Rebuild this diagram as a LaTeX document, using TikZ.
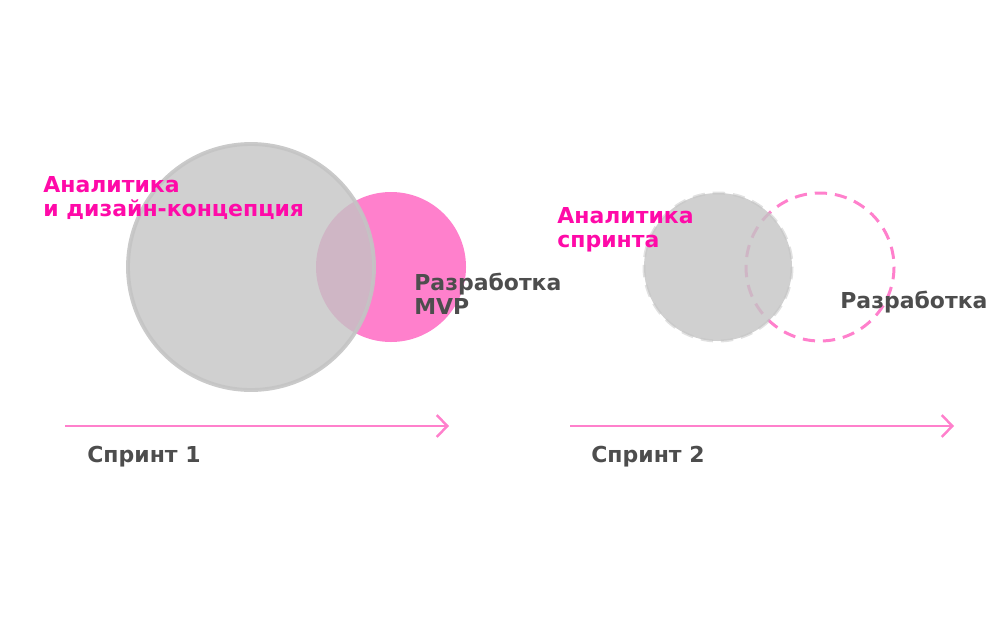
\documentclass[tikz,border=0pt]{standalone}
\usepackage{fontspec}
\setmainfont{DejaVu Sans}
\usetikzlibrary{arrows.meta}
\definecolor{sprintpink}{HTML}{FF80CC}
\definecolor{titlepink}{HTML}{FF0AA8}
\definecolor{circgray}{HTML}{C4C4C4}
\definecolor{textgray}{HTML}{4D4D4D}
\tikzset{
  lbl/.style={font=\bfseries\fontsize{12.5}{13.6}\selectfont, align=left, anchor=base west, inner sep=0pt},
  timeline/.style={sprintpink, line width=1.4pt, -{Straight Barb[length=6pt, width=12.5pt, line width=1.4pt]}},
  dashring/.style={line width=1.7pt, dash pattern=on 7pt off 4.5pt}
}
\begin{document}
\begin{tikzpicture}[x=0.02cm, y=-0.02cm]
\useasboundingbox (0,0) rectangle (1000,626);

% Sprint 1: overlapping phases
\fill[sprintpink] (391,267) circle (75);
\filldraw[circgray, fill opacity=0.8, draw opacity=0.9, line width=2.2pt] (251,267) circle (123);
\node[lbl, text=titlepink] (an1) at (43,216) {Аналитика\\и дизайн-концепция};
\node[lbl, text=textgray] (dev1) at (414,314) {Разработка\\MVP};

\coordinate (s1a) at (65,426);
\coordinate (s1b) at (449,426);
\draw[timeline] (s1a) -- (s1b);
\node[lbl, text=textgray] (sp1) at (87,462) {Спринт 1};

% Sprint 2: planned phases
\draw[sprintpink, dashring] (820,267) circle (74);
\filldraw[circgray, fill opacity=0.8, dashring, draw opacity=0.5] (718,267) circle (74);
\node[lbl, text=titlepink] (an2) at (557,247) {Аналитика\\спринта};
\node[lbl, text=textgray] (dev2) at (840,308) {Разработка};

\coordinate (s2a) at (570,426);
\coordinate (s2b) at (954,426);
\draw[timeline] (s2a) -- (s2b);
\node[lbl, text=textgray] (sp2) at (591,462) {Спринт 2};

\end{tikzpicture}
\end{document}
